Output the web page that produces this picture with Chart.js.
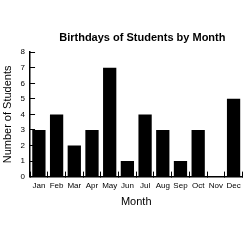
<!DOCTYPE html>
<html>
<head>
<meta charset="utf-8">
<script src="https://cdn.jsdelivr.net/npm/chart.js@4"></script>
<style>
  html, body { margin: 0; padding: 0; background: #fff; }
  #wrap { width: 250px; height: 250px; }
</style>
</head>
<body>
<div id="wrap"><canvas id="birthdayChart" width="250" height="250"></canvas></div>
<script>
// --- DATA ---
const months = ['Jan', 'Feb', 'Mar', 'Apr', 'May', 'Jun', 'Jul', 'Aug', 'Sep', 'Oct', 'Nov', 'Dec'];
const studentCounts = [3, 4, 2, 3, 7, 1, 4, 3, 1, 3, 0, 5];
const yTicks = [0, 1, 2, 3, 4, 5, 6, 7, 8];

const fontFamily = '"Liberation Sans", Arial, sans-serif';
Chart.defaults.font.family = fontFamily;
Chart.defaults.color = '#000';

const ctx = document.getElementById('birthdayChart');

// ticks point inward (negative tickLength); Chart.js counts ticks.padding twice
// when sizing an axis, so the axis titles get negative padding to compensate
new Chart(ctx, {
    type: 'bar',
    data: {
        labels: months,
        datasets: [{
            label: 'Number of Students',
            data: studentCounts,
            backgroundColor: '#000',
            borderWidth: 0,
            categoryPercentage: 1,
            barPercentage: 0.75
        }]
    },
    options: {
        responsive: false,
        animation: false,
        layout: { padding: { top: 31, left: 1, right: 2, bottom: 41 } },
        plugins: {
            legend: { display: false },
            tooltip: { enabled: false },
            title: {
                display: true,
                // leading nbsp nudges the centred title a little to the right
                text: '\u00a0\u00a0\u00a0\u00a0Birthdays of Students by Month',
                fullSize: false,
                color: '#000',
                font: { size: 11, weight: 'bold' },
                padding: { top: 0, bottom: 8 }
            }
        },
        scales: {
            x: {
                grid: { drawOnChartArea: false, tickLength: -5, color: '#000', offset: true },
                border: { color: '#000', width: 1.5 },
                ticks: { font: { size: 8 }, padding: 9, maxRotation: 0, autoSkip: false },
                title: { display: true, text: 'Month', font: { size: 11 }, padding: { top: -3.4, bottom: 0 } }
            },
            y: {
                min: yTicks[0],
                max: yTicks[yTicks.length - 1],
                afterBuildTicks: axis => { axis.ticks = yTicks.map(v => ({ value: v })); },
                grid: { drawOnChartArea: false, tickLength: -5, color: '#000' },
                border: { color: '#000', width: 1.5 },
                ticks: { font: { size: 8 }, padding: 10 },
                title: { display: true, text: 'Number of Students', font: { size: 11 }, padding: { top: 0, bottom: -3.6 } }
            }
        }
    }
});
</script>
</body>
</html>
